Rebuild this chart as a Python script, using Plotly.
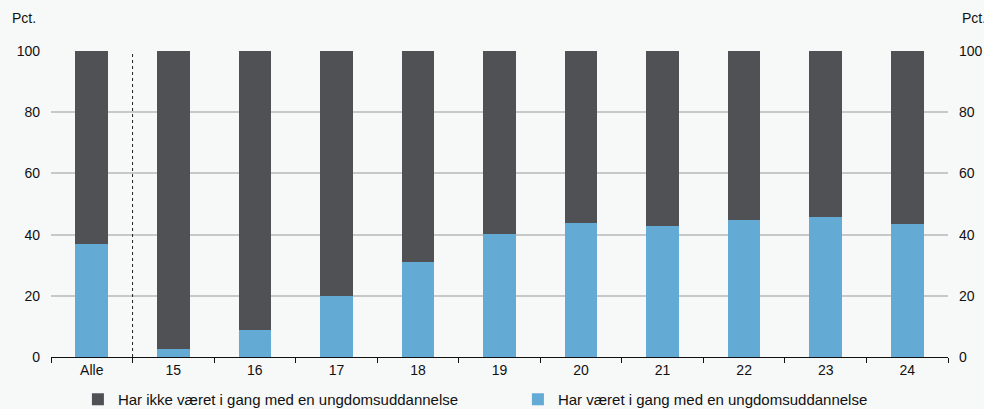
import plotly.graph_objects as go

categories = ["Alle", "15", "16", "17", "18", "19", "20", "21", "22", "23", "24"]
har_vaeret = [36.8, 2.7, 8.7, 20.0, 30.9, 40.1, 43.7, 42.8, 44.8, 45.7, 43.4]
har_ikke_vaeret = [round(100 - v, 1) for v in har_vaeret]
y_ticks = [0, 20, 40, 60, 80, 100]

dark = "#505155"
blue = "#63aad5"
bg = "#f7f8f8"
font = "Liberation Sans, Arial, sans-serif"

fig = go.Figure()
fig.add_trace(go.Bar(
    x=categories, y=har_vaeret, name="Har været i gang med en ungdomsuddannelse",
    marker=dict(color=blue, line=dict(width=0)), width=0.4,
))
fig.add_trace(go.Bar(
    x=categories, y=har_ikke_vaeret, name="Har ikke været i gang med en ungdomsuddannelse",
    marker=dict(color=dark, line=dict(width=0)), width=0.4,
))
# invisible trace to drive the right-hand axis
fig.add_trace(go.Scatter(x=categories, y=[None] * len(categories), yaxis="y2",
                         showlegend=False, hoverinfo="skip"))

fig.add_shape(type="line", xref="x", yref="y", x0=0.5, x1=0.5, y0=0, y1=100,
              line=dict(color="#222222", width=1, dash="3px,3px"))

fig.add_annotation(text="Pct.", xref="paper", yref="paper", x=-0.030, y=1.108,
                   xanchor="center", yanchor="middle", showarrow=False,
                   font=dict(family=font, size=14, color="#111111"))
fig.add_annotation(text="Pct.", xref="paper", yref="paper", x=1.029, y=1.108,
                   xanchor="center", yanchor="middle", showarrow=False,
                   font=dict(family=font, size=14, color="#111111"))

fig.update_layout(
    barmode="stack",
    width=984, height=409,
    paper_bgcolor=bg, plot_bgcolor=bg,
    margin=dict(l=51, r=36, t=51, b=52, autoexpand=False),
    font=dict(family=font, size=14, color="#111111"),
    xaxis=dict(
        type="category", range=[-0.5, len(categories) - 0.5],
        tickson="boundaries", ticks="outside", ticklen=5,
        tickcolor="#111111", showline=True, linecolor="#111111", linewidth=1,
        showgrid=False, tickfont=dict(size=14),
    ),
    yaxis=dict(
        range=[0, 100], tickvals=y_ticks, showgrid=True, gridcolor="#c8c8c8",
        gridwidth=1.5, zeroline=False, ticks="", ticklabelstandoff=10,
        tickfont=dict(size=14),
    ),
    yaxis2=dict(
        range=[0, 100], tickvals=y_ticks, overlaying="y", side="right",
        showgrid=False, zeroline=False, ticks="", ticklabelstandoff=10,
        tickfont=dict(size=14),
    ),
    legend=dict(
        orientation="h", x=0.03, xanchor="left", y=-0.085, yanchor="top",
        traceorder="reversed", entrywidth=395, itemwidth=30,
        font=dict(family=font, size=15), bgcolor="rgba(0,0,0,0)",
    ),
    showlegend=True,
)

fig.write_html("out.html", config={"displayModeBar": False},
               post_script="document.body.style.margin='0';")
